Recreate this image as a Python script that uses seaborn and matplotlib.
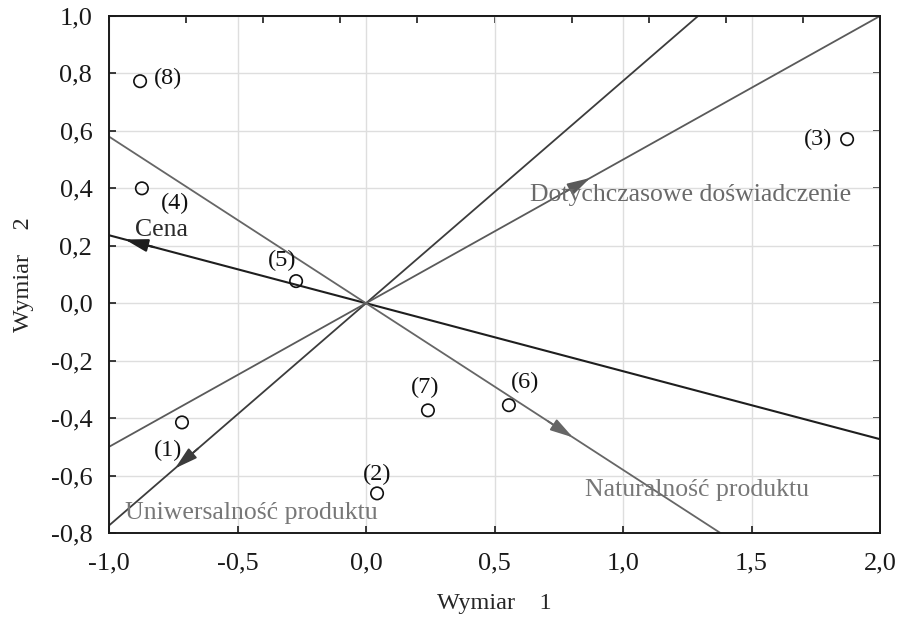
import numpy as np
import pandas as pd
import matplotlib
matplotlib.use("Agg")
import matplotlib.pyplot as plt
import seaborn as sns

# ---- data ----
point_labels = ["(1)", "(2)", "(3)", "(4)", "(5)", "(6)", "(7)", "(8)"]
point_x = [-0.716, 0.043, 1.872, -0.872, -0.272, 0.556, 0.241, -0.879]
point_y = [-0.415, -0.662, 0.571, 0.400, 0.077, -0.355, -0.373, 0.773]

vector_names = ["Cena", "Uniwersalność produktu", "Dotychczasowe doświadczenie", "Naturalność produktu"]
vector_x = [-0.938, -0.743, 0.872, 0.805]
vector_y = [0.222, -0.575, 0.436, -0.467]

x_ticks = [-1.0, -0.5, 0.0, 0.5, 1.0, 1.5, 2.0]
y_ticks = [-0.8, -0.6, -0.4, -0.2, 0.0, 0.2, 0.4, 0.6, 0.8, 1.0]
top_ticks = [-1.0, -0.7, -0.4, -0.1, 0.2, 0.5, 0.8, 1.1, 1.4, 1.7, 2.0]
x_label = "Wymiar    1"
y_label = "Wymiar    2"

# ---- style ----
sns.set_style("whitegrid")
plt.rcParams["font.family"] = ["Liberation Serif", "DejaVu Serif"]

fig = plt.figure(figsize=(8.99, 6.2), dpi=100)
ax = fig.add_axes([109/899, 1-533/620, (880-109)/899, (533-16)/620])

df = pd.DataFrame({"x": point_x, "y": point_y, "label": point_labels})

line_colors = ["#1e1e1e", "#3c3c3c", "#5a5a5a", "#666666"]
line_widths = [1.5, 1.3, 1.3, 1.3]
text_colors = ["#2a2a2a", "#777777", "#6a6a6a", "#777777"]

for vx, vy, c, lw in zip(vector_x, vector_y, line_colors, line_widths):
    ax.axline((0, 0), (vx, vy), color=c, lw=lw, zorder=2)
    ax.annotate("", xy=(vx, vy), xytext=(vx * 0.88, vy * 0.88),
                arrowprops=dict(arrowstyle="-|>,head_length=1.0,head_width=0.28",
                                color=c, lw=lw, mutation_scale=14, shrinkA=0, shrinkB=0),
                zorder=3)

sns.scatterplot(data=df, x="x", y="y", ax=ax, s=80, marker="o",
                facecolor="none", edgecolor="#111111", linewidth=1.2, zorder=4, legend=False)

label_offsets = {"(1)": (-14, -28), "(2)": (0, 19), "(3)": (-29, 0), "(4)": (33, -15),
                 "(5)": (-14, 21), "(6)": (16, 23), "(7)": (-3, 23), "(8)": (28, 3)}
for lx, ly, lab in zip(point_x, point_y, point_labels):
    ax.annotate(lab, (lx, ly), xytext=label_offsets[lab], textcoords="offset pixels",
                ha="center", va="center", fontsize=17.5, color="#111111", zorder=5)

vec_text_pos = {"Cena": (-0.90, 0.254, "left"),
                "Uniwersalność produktu": (-0.938, -0.73, "left"),
                "Dotychczasowe doświadczenie": (0.638, 0.376, "left"),
                "Naturalność produktu": (0.852, -0.652, "left")}
for name, tc in zip(vector_names, text_colors):
    tx, ty, ha = vec_text_pos[name]
    ax.text(tx, ty, name, ha=ha, va="center", fontsize=18.5, color=tc, zorder=5)

ax.set_xlim(-1.0, 2.0)
ax.set_ylim(-0.8, 1.0)
ax.set_xticks(x_ticks)
ax.set_yticks(y_ticks)
ax.set_xticklabels([f"{t:.1f}".replace(".", ",") for t in x_ticks])
ax.set_yticklabels([f"{t:.1f}".replace(".", ",") for t in y_ticks])
ax.set_xlabel(x_label, fontsize=17.5, labelpad=13)
ax.set_ylabel(y_label, fontsize=17.5, labelpad=12)

ax.grid(True, color="#dedede", lw=1.0)
for s in ax.spines.values():
    s.set_color("#1a1a1a")
    s.set_linewidth(1.4)
    s.set_visible(True)
ax.tick_params(axis="both", direction="in", length=5, width=1.2, color="#1a1a1a",
               labelsize=19, labelcolor="#1a1a1a", bottom=True, left=True)
ax.tick_params(axis="x", pad=14)
ax.tick_params(axis="y", pad=12)

sec_x = ax.secondary_xaxis("top")
sec_x.set_xticks(top_ticks)
sec_x.tick_params(direction="in", length=5, width=1.2, labeltop=False, color="#1a1a1a")
sec_y = ax.secondary_yaxis("right")
sec_y.set_yticks(y_ticks)
sec_y.tick_params(direction="in", length=5, width=1.2, labelright=False, color="#1a1a1a")
for sa in (sec_x, sec_y):
    for s in sa.spines.values():
        s.set_linewidth(1.4)
        s.set_color("#1a1a1a")

fig.savefig("out.png", dpi=100)
